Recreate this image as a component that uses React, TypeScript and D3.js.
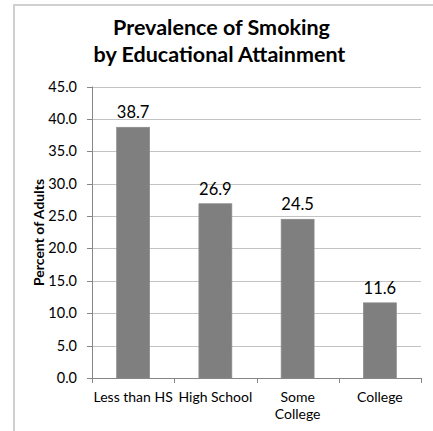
import React from "react";
import * as d3 from "d3";

const categories = ["Less than HS", "High School", "Some College", "College"];
const categoryLines = [["Less than HS"], ["High School"], ["Some", "College"], ["College"]];
const values = [38.7, 26.9, 24.5, 11.6];
const yTicks = [0, 5, 10, 15, 20, 25, 30, 35, 40, 45];

const W = 433;
const H = 431;
const FONT = "Lato, 'Open Sans', sans-serif";

export default function App() {
  const left = 92;
  const right = 421;
  const top = 86.5;
  const bottom = 378;

  const x = d3.scaleBand<string>().domain(categories).range([left, right]).paddingInner(0.6).paddingOuter(0.3);
  const xEdges = d3.scaleBand<string>().domain(categories).range([left, right]);
  const y = d3.scaleLinear().domain([0, 45]).range([bottom, top]);

  return (
    <svg
      width={W}
      height={H}
      style={{ position: "absolute", left: 0, top: 0, background: "#fff" }}
      fontFamily={FONT}
    >
      {/* chart area frame */}
      <rect x={14} y={5} width={W} height={H} fill="#fff" stroke="#d0d0d0" strokeWidth={2} />

      {/* title */}
      <text x={221.5} y={35} textAnchor="middle" fontSize={21.5} fontWeight="bold" fill="#000">
        Prevalence of Smoking
      </text>
      <text x={219.5} y={62} textAnchor="middle" fontSize={21.5} fontWeight="bold" fill="#000">
        by Educational Attainment
      </text>

      {/* gridlines */}
      {yTicks.filter((t) => t > 0).map((t) => (
        <line key={t} x1={left} x2={right} y1={Math.round(y(t)) + 0.5} y2={Math.round(y(t)) + 0.5} stroke="#c3c3c3" strokeWidth={1} />
      ))}

      {/* bars */}
      {categories.map((c, i) => (
        <rect
          key={c}
          x={x(c)}
          y={y(values[i])}
          width={x.bandwidth()}
          height={y(0) - y(values[i])}
          fill="#7f7f7f"
          stroke="#8a8a8a"
          strokeWidth={0.75}
        />
      ))}

      {/* value labels */}
      {categories.map((c, i) => (
        <text
          key={c}
          x={(x(c) as number) + x.bandwidth() / 2}
          y={y(values[i]) - 9}
          textAnchor="middle"
          fontSize={16.5}
          fill="#000"
        >
          {values[i].toFixed(1)}
        </text>
      ))}

      {/* y axis */}
      <line x1={left + 0.5} x2={left + 0.5} y1={top} y2={bottom} stroke="#868686" />
      {yTicks.map((t) => (
        <g key={t}>
          <line x1={left - 5} x2={left} y1={Math.round(y(t)) + 0.5} y2={Math.round(y(t)) + 0.5} stroke="#868686" />
          <text x={left - 15} y={y(t) + 5} textAnchor="end" fontSize={14.5} fill="#000">
            {t.toFixed(1)}
          </text>
        </g>
      ))}

      {/* x axis */}
      <line x1={left} x2={right} y1={Math.round(y(0)) + 0.5} y2={Math.round(y(0)) + 0.5} stroke="#868686" />
      {categories.map((c) => (
        <line key={c} x1={Math.round(xEdges(c) as number) + 0.5} x2={Math.round(xEdges(c) as number) + 0.5} y1={bottom} y2={bottom + 5} stroke="#868686" />
      ))}
      <line x1={right + 0.5} x2={right + 0.5} y1={bottom} y2={bottom + 5} stroke="#868686" />
      {categories.map((c, i) => (
        <text
          key={c}
          x={(xEdges(c) as number) + xEdges.bandwidth() / 2}
          y={402}
          textAnchor="middle"
          fontSize={14}
          fill="#000"
        >
          {categoryLines[i].map((line, j) => (
            <tspan key={j} x={(xEdges(c) as number) + xEdges.bandwidth() / 2} dy={j === 0 ? 0 : 17}>
              {line}
            </tspan>
          ))}
        </text>
      ))}

      {/* y axis title */}
      <text
        transform={`translate(44, 232.5) rotate(-90)`}
        textAnchor="middle"
        fontSize={14}
        fontWeight="bold"
        fill="#000"
      >
        Percent of Adults
      </text>
    </svg>
  );
}
